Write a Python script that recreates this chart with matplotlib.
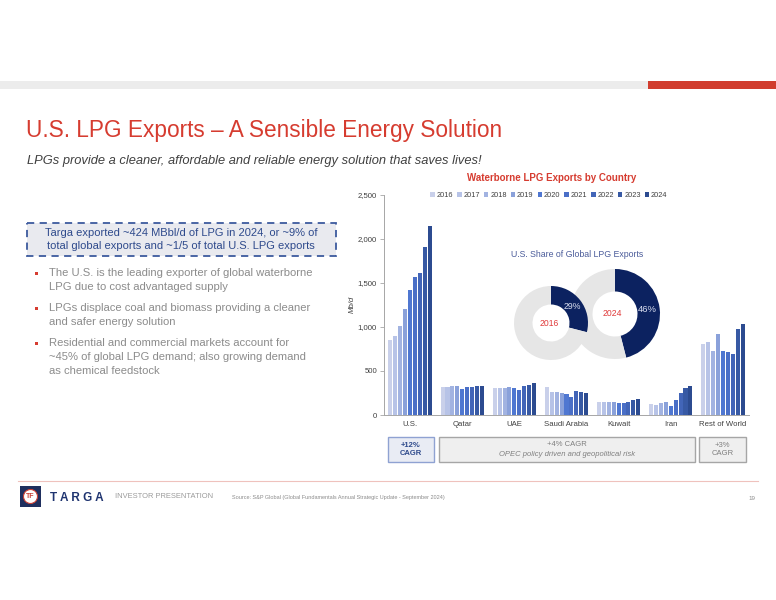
import matplotlib.pyplot as plt
from matplotlib.patches import Rectangle, Circle
import numpy as np

plt.rcParams['font.family'] = ['Liberation Sans', 'DejaVu Sans']

# data
categories = ['U.S.', 'Qatar', 'UAE', 'Saudi Arabia', 'Kuwait', 'Iran', 'Rest of World']
years = ['2016', '2017', '2018', '2019', '2020', '2021', '2022', '2023', '2024']
us = [850, 895, 1005, 1205, 1415, 1565, 1615, 1910, 2140]
qatar = [313, 313, 332, 332, 298, 313, 315, 324, 326]
uae = [309, 302, 309, 313, 302, 283, 332, 343, 366]
saudi = [317, 260, 260, 249, 234, 207, 268, 256, 245]
kuwait = [143, 147, 147, 143, 136, 140, 147, 170, 181]
iran = [124, 117, 140, 147, 102, 166, 245, 309, 324]
rest_of_world = [803, 822, 728, 920, 720, 709, 686, 973, 1037]
share_2016 = 29
share_2024 = 46
cagr_labels = ['+12%\nCAGR', '+4% CAGR', '+3%\nCAGR']

year_colors = ['#c9d0ea', '#b7c3e7', '#a2b3e1', '#8aa1da', '#4f77d1',
               '#4a6fc7', '#4265b8', '#3759a4', '#2c4b90']
red = '#d63c30'
navy = '#2e4a8c'
grey_txt = '#8c8c8c'

fig = plt.figure(figsize=(7.76, 6), dpi=100)

# slide decoration layer in pixel coords
deco = fig.add_axes([0, 0, 1, 1])
deco.set_xlim(0, 776)
deco.set_ylim(600, 0)
deco.axis('off')

deco.add_patch(Rectangle((0, 81), 648, 8, facecolor='#ececec', edgecolor='none'))
deco.add_patch(Rectangle((648, 81), 128, 8, facecolor='#d13d2e', edgecolor='none'))

deco.text(26, 130, 'U.S. LPG Exports \u2013 A Sensible Energy Solution', fontsize=16.3,
          color=red, va='center', ha='left')
deco.text(27, 161, 'LPGs provide a cleaner, affordable and reliable energy solution that saves lives!',
          fontsize=9.3, style='italic', color='#404040', va='center', ha='left')

# dashed callout box
deco.add_patch(Rectangle((27, 223), 309, 33, facecolor='#e9eaef', edgecolor='#3d5a9e',
                         linestyle=(0, (4, 3)), linewidth=1.3))
deco.text(181, 233, 'Targa exported ~424 MBbl/d of LPG in 2024, or ~9% of',
          fontsize=8, color=navy, ha='center', va='center')
deco.text(181, 246, 'total global exports and ~1/5 of total U.S. LPG exports',
          fontsize=8, color=navy, ha='center', va='center')

bullets = [
    (273, ['The U.S. is the leading exporter of global waterborne',
           'LPG due to cost advantaged supply']),
    (308, ['LPGs displace coal and biomass providing a cleaner',
           'and safer energy solution']),
    (343, ['Residential and commercial markets account for',
           '~45% of global LPG demand; also growing demand',
           'as chemical feedstock']),
]
for y0, lines in bullets:
    deco.add_patch(Rectangle((35, y0 - 1.5), 3, 3, facecolor=red, edgecolor='none'))
    for i, line in enumerate(lines):
        deco.text(49, y0 + i * 14, line, fontsize=8.1, color=grey_txt, ha='left', va='center')

# CAGR boxes under the chart
deco.add_patch(Rectangle((388, 437), 46, 25, facecolor='#e9ecf4', edgecolor='#8fa2d2', linewidth=1))
deco.add_patch(Rectangle((439, 437), 256, 25, facecolor='#efefef', edgecolor='#a6a6a6', linewidth=1))
deco.add_patch(Rectangle((699, 437), 47, 25, facecolor='#efefef', edgecolor='#a6a6a6', linewidth=1))
deco.text(411, 449.5, cagr_labels[0], fontsize=5.5, color=navy, fontweight='bold',
          ha='center', va='center', linespacing=1.2)
deco.text(567, 444, cagr_labels[1], fontsize=5.5, color='#7f7f7f', ha='center', va='center')
deco.text(567, 454, 'OPEC policy driven and geopolitical risk', fontsize=5.5, color='#7f7f7f',
          style='italic', ha='center', va='center')
deco.text(722.5, 449.5, cagr_labels[2], fontsize=5.5, color='#7f7f7f',
          ha='center', va='center', linespacing=1.2)

# footer
deco.plot([18, 758], [481, 481], color='#efc2bd', linewidth=0.8)
deco.add_patch(Rectangle((20, 486), 21, 21, facecolor='#1f2f5e', edgecolor='none'))
deco.add_patch(Circle((30.5, 496.5), 7, facecolor='white', edgecolor='#c94035', linewidth=0.8))
deco.text(30.5, 497, 'TF', fontsize=5, color='#c94035', fontweight='bold', ha='center', va='center')
deco.text(50, 498, 'T A R G A', fontsize=8.5, color='#1f3470', fontweight='bold',
          ha='left', va='center')
deco.text(115, 497, 'INVESTOR PRESENTATION', fontsize=5.4, color='#9a9a9a',
          ha='left', va='center')
deco.text(232, 498, 'Source: S&P Global (Global Fundamentals Annual Strategic Update - September 2024)',
          fontsize=4.0, color='#8c8c8c', ha='left', va='center')
deco.text(752, 498, '19', fontsize=4.5, color='#8c8c8c', ha='center', va='center')

# bar chart
ax = fig.add_axes([384 / 776, 1 - 415 / 600, 365 / 776, 220.5 / 600])
values = np.array([us, qatar, uae, saudi, kuwait, iran, rest_of_world])
x = np.arange(len(categories))
slot = 0.094
for j, yr in enumerate(years):
    ax.bar(x + (j - 4) * slot, values[:, j], width=0.078, color=year_colors[j], label=yr)

ax.set_xlim(-0.5, len(categories) - 0.5)
ax.set_ylim(0, 2500)
ax.set_yticks(np.arange(0, 2501, 500))
ax.set_yticklabels([f'{v:,}' for v in range(0, 2501, 500)])
ax.set_xticks(x)
ax.set_xticklabels(categories)
ax.tick_params(axis='x', length=0, labelsize=5.6, colors='#404040', pad=4)
ax.tick_params(axis='y', length=3, width=0.6, labelsize=5.6, colors='#a6a6a6',
               labelcolor='#404040', pad=2)
for s in ['top', 'right']:
    ax.spines[s].set_visible(False)
for s in ['left', 'bottom']:
    ax.spines[s].set_color('#a6a6a6')
    ax.spines[s].set_linewidth(0.7)
ax.set_ylabel('Mb/d', fontsize=5.6, style='italic', color='#404040')
ax.yaxis.set_label_coords(-0.076, 0.5)
ax.legend(ncol=9, loc='center', bbox_to_anchor=(0.452, 0.995), frameon=False,
          fontsize=5.3, handlelength=0.6, handleheight=0.6, handletextpad=0.25,
          columnspacing=0.55, labelcolor='#404040')
ax.text(0.46, 1.075, 'Waterborne LPG Exports by Country', transform=ax.transAxes,
        fontsize=7, fontweight='bold', color=red, ha='center', va='center')
ax.text(0.53, 0.73, 'U.S. Share of Global LPG Exports', transform=ax.transAxes,
        fontsize=6.3, color='#4b5c9a', ha='center', va='center')

# donuts
def donut(cx, cy, r, share, year, label_size, z):
    dax = fig.add_axes([(cx - r) / 776, 1 - (cy + r) / 600, 2 * r / 776, 2 * r / 600], zorder=z)
    dax.patch.set_alpha(0)
    wedges, _ = dax.pie([share, 100 - share], colors=['#0c2260', '#e6e6e6'], startangle=90,
                        counterclock=False, wedgeprops=dict(width=0.5, linewidth=0))
    dax.set_xlim(-1, 1)
    dax.set_ylim(-1, 1)
    w = wedges[0]
    mid = np.deg2rad((w.theta1 + w.theta2) / 2)
    dax.text(0.72 * np.cos(mid), 0.72 * np.sin(mid), f'{share}%', fontsize=label_size,
             color='#d9def0', ha='center', va='center')
    dax.text(-0.05, 0, year, fontsize=6.2, color='#e03a3a', ha='center', va='center')

donut(615, 314, 45, share_2024, '2024', 6.8, 3)
donut(551, 323, 37, share_2016, '2016', 6.3, 4)

fig.savefig('out.png', dpi=100)
